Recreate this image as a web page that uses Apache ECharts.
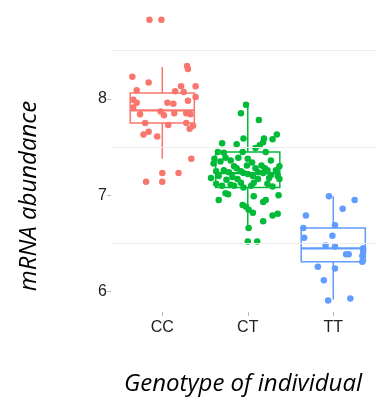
<!DOCTYPE html>
<html>
<head>
<meta charset="utf-8">
<script src="https://cdn.jsdelivr.net/npm/echarts@6/dist/echarts.min.js"></script>
<style>
  html, body { margin: 0; padding: 0; background: #fff; }
  #main { width: 382px; height: 402px; }
</style>
</head>
<body>
<div id="main"></div>
<script>
// genotype groups
var genotypes = ['CC', 'CT', 'TT'];
var colors = ['#F8766D', '#00BA38', '#619CFF'];

// box stats per group: [lower whisker, Q1, median, Q3, upper whisker]
var boxStats = [
  [7.38, 7.75, 7.88, 8.06, 8.33],
  [6.64, 7.08, 7.23, 7.45, 7.95],
  [5.92, 6.31, 6.45, 6.66, 6.99]
];

// jittered points, x = group position (1..3) + jitter
var ccX = [0.85, 0.99, 1.29, 1.30, 0.65, 0.84, 0.70, 1.22, 1.39, 1.15, 1.25, 1.39, 0.66, 0.70, 1.06, 1.13, 1.30, 0.66, 0.98, 1.02, 0.74, 1.14, 1.28, 1.33, 0.80, 1.07, 1.28, 1.36, 1.32, 0.84, 0.78, 0.94, 1.34, 1.00, 1.19, 0.81, 1.00];
var ccY = [8.82, 8.82, 8.34, 8.31, 8.23, 8.17, 8.09, 8.13, 8.13, 8.08, 8.07, 8.02, 7.99, 7.96, 7.96, 7.95, 7.98, 7.91, 7.87, 7.83, 7.84, 7.85, 7.85, 7.84, 7.75, 7.73, 7.75, 7.72, 7.69, 7.66, 7.63, 7.61, 7.38, 7.23, 7.23, 7.14, 7.14];

var ctX = [1.98, 1.92, 2.13, 2.34, 2.29, 2.19, 2.18, 2.14, 2.09, 1.95, 1.70, 1.87, 1.65, 1.72, 1.74, 1.94, 2.21, 1.80, 2.00, 2.05,
  1.68, 1.60, 2.27, 2.37, 1.84, 1.87, 2.16, 2.20, 1.63, 1.72, 1.92, 1.95, 2.00, 2.12, 2.18, 2.23, 2.27, 2.35, 1.66, 1.82,
  1.88, 1.92, 2.12, 2.37, 1.63, 1.70, 1.80, 1.84, 1.95, 2.04, 2.07, 2.23, 2.29, 1.74, 1.77, 1.66, 2.07, 2.36, 2.18, 2.21,
  1.94, 1.98, 2.01, 2.06, 2.29, 2.35, 2.18, 2.01, 2.00, 2.11, 1.78, 2.06, 1.99, 1.57, 2.33, 1.61, 1.89, 1.75, 2.25, 2.09];
var ctY = [7.94, 7.85, 7.78, 7.63, 7.58, 7.59, 7.55, 7.52, 7.49, 7.59, 7.54, 7.53, 7.45, 7.44, 7.39, 7.45, 7.45, 7.36, 7.38, 7.34,
  7.35, 7.33, 7.36, 7.30, 7.30, 7.28, 7.31, 7.28, 7.25, 7.26, 7.25, 7.23, 7.22, 7.24, 7.23, 7.26, 7.21, 7.20, 7.20, 7.19,
  7.17, 7.13, 7.17, 7.17, 7.12, 7.10, 7.11, 7.10, 7.08, 7.10, 7.13, 7.12, 7.09, 7.02, 7.01, 6.95, 6.99, 7.00, 6.93, 6.95,
  6.90, 6.88, 6.85, 6.82, 6.79, 6.81, 6.73, 6.66, 6.52, 6.52, 7.24, 7.20, 7.31, 7.18, 7.26, 7.38, 7.39, 7.16, 7.18, 7.28];

var ttX = [2.95, 3.25, 3.11, 2.68, 3.02, 2.65, 2.99, 2.66, 2.91, 3.02, 3.35, 3.35, 3.34, 3.34, 3.15, 3.18, 2.82, 3.02, 2.89, 2.94, 3.20];
var ttY = [6.99, 6.95, 6.86, 6.79, 6.69, 6.66, 6.58, 6.56, 6.48, 6.47, 6.45, 6.42, 6.37, 6.31, 6.39, 6.39, 6.26, 6.24, 6.12, 5.91, 5.93];

var yTicks = [6, 7, 8];
var gridLines = [6.5, 7.5, 8.5];

var chart = echarts.init(document.getElementById('main'), null, { renderer: 'canvas' });

function zip(xs, ys) {
  var out = [];
  for (var i = 0; i < xs.length; i++) {
    out.push([xs[i], ys[i]]);
  }
  return out;
}

var boxData = boxStats.map(function (s, i) {
  return [i + 1].concat(s);
});

var halfW = 0.375;

var option = {
  animation: false,
  grid: { left: 111, right: 6, top: 0, bottom: 90 },
  xAxis: {
    type: 'value',
    min: 0.4,
    max: 3.5,
    axisLine: { show: false },
    splitLine: { show: false },
    axisTick: { show: true, length: 4, customValues: [1, 2, 3], lineStyle: { color: '#b8b8b8' } },
    axisLabel: {
      customValues: [1, 2, 3],
      margin: 8,
      color: '#222',
      fontFamily: 'Liberation Sans',
      fontSize: 16,
      formatter: function (v) { return genotypes[Math.round(v) - 1]; }
    }
  },
  yAxis: {
    type: 'value',
    min: 5.79,
    max: 9.025,
    axisLine: { show: false },
    splitLine: { show: false },
    axisTick: { show: true, length: 4, customValues: yTicks, lineStyle: { color: '#b8b8b8' } },
    axisLabel: {
      customValues: yTicks,
      margin: 4,
      color: '#222',
      fontFamily: 'Liberation Sans',
      fontSize: 16
    }
  },
  graphic: [
    {
      type: 'text',
      x: 29, y: 196,
      rotation: Math.PI / 2,
      style: {
        text: 'mRNA abundance',
        align: 'center',
        verticalAlign: 'middle',
        fontFamily: 'Open Sans',
        fontStyle: 'italic',
        fontSize: 24,
        fill: '#000'
      }
    },
    {
      type: 'text',
      x: 243, y: 384,
      style: {
        text: 'Genotype of individual',
        align: 'center',
        verticalAlign: 'middle',
        fontFamily: 'Open Sans',
        fontStyle: 'italic',
        fontSize: 24,
        fill: '#000'
      }
    }
  ],
  series: [
    {
      type: 'custom',
      name: 'box',
      z: 2,
      silent: true,
      data: boxData,
      renderItem: function (params, api) {
        var x = api.value(0);
        var c = colors[params.dataIndex];
        var pMin = api.coord([x, api.value(1)]);
        var pQ1l = api.coord([x - halfW, api.value(2)]);
        var pQ3r = api.coord([x + halfW, api.value(4)]);
        var pMedL = api.coord([x - halfW, api.value(3)]);
        var pMedR = api.coord([x + halfW, api.value(3)]);
        var pQ1 = api.coord([x, api.value(2)]);
        var pQ3 = api.coord([x, api.value(4)]);
        var pMax = api.coord([x, api.value(5)]);
        var st = { stroke: c, lineWidth: 1.5, fill: null };
        return {
          type: 'group',
          children: [
            { type: 'line', shape: { x1: pMin[0], y1: pMin[1], x2: pQ1[0], y2: pQ1[1] }, style: st },
            { type: 'line', shape: { x1: pQ3[0], y1: pQ3[1], x2: pMax[0], y2: pMax[1] }, style: st },
            { type: 'rect', shape: { x: pQ1l[0], y: pQ3r[1], width: pQ3r[0] - pQ1l[0], height: pQ1l[1] - pQ3r[1] }, style: st },
            { type: 'line', shape: { x1: pMedL[0], y1: pMedL[1], x2: pMedR[0], y2: pMedR[1] }, style: { stroke: c, lineWidth: 2.2 } }
          ]
        };
      },
      markLine: {
        silent: true,
        symbol: 'none',
        label: { show: false },
        lineStyle: { color: '#ececec', width: 1, type: 'solid' },
        data: gridLines.map(function (v) { return { yAxis: v }; })
      }
    },
    {
      type: 'scatter', name: 'CC', z: 3, symbolSize: 6.5,
      itemStyle: { color: colors[0], opacity: 1 },
      data: zip(ccX, ccY)
    },
    {
      type: 'scatter', name: 'CT', z: 3, symbolSize: 6.5,
      itemStyle: { color: colors[1], opacity: 1 },
      data: zip(ctX, ctY)
    },
    {
      type: 'scatter', name: 'TT', z: 3, symbolSize: 6.5,
      itemStyle: { color: colors[2], opacity: 1 },
      data: zip(ttX, ttY)
    }
  ]
};

chart.setOption(option);
</script>
</body>
</html>
